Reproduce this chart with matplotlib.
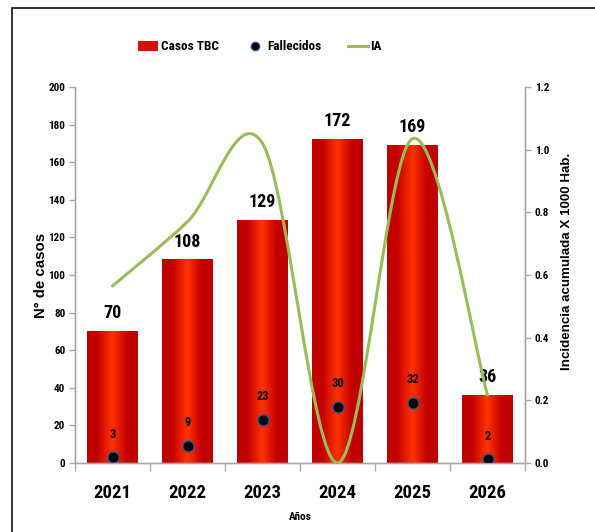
import matplotlib
matplotlib.use("Agg")
import matplotlib.pyplot as plt
import numpy as np
from matplotlib.colors import LinearSegmentedColormap
from matplotlib.path import Path
from matplotlib.patches import PathPatch, Patch, Rectangle
from matplotlib.lines import Line2D

years = ["2021", "2022", "2023", "2024", "2025", "2026"]
casos = [70, 108, 129, 172, 169, 36]
fallecidos = [3, 9, 23, 30, 32, 2]
ia = [0.565, 0.77, 1.02, 0.0, 1.035, 0.217]

NARROW = ['Roboto Condensed', 'DejaVu Sans']
ARIAL = ['Liberation Sans', 'DejaVu Sans']

fig = plt.figure(figsize=(5.95, 5.32), dpi=100)
ax = fig.add_axes([75/595, 69/532, 450/595, 376/532])
ax2 = ax.twinx()

x = np.arange(len(years))
bars = ax.bar(x, casos, width=0.67, color='none', edgecolor='none', zorder=2)

cmap = LinearSegmentedColormap.from_list(
    'g', [(0, '#C00000'), (0.2, '#C40000'), (0.5, '#FF3300'), (0.78, '#C40000'), (1, '#C00000')])
grad = np.linspace(0, 1, 256).reshape(1, -1)
for b in bars:
    ax.imshow(grad, cmap=cmap, aspect='auto', zorder=2,
              extent=[b.get_x(), b.get_x() + b.get_width(), 0, b.get_height()])
    ax.text(b.get_x() + b.get_width() / 2, b.get_height() + 5, f"{b.get_height():.0f}",
            ha='center', va='bottom', fontsize=13, fontweight='bold', family=NARROW)

ax.plot(x, fallecidos, 'o', color='black', markeredgecolor='#2F5597',
        markeredgewidth=1.0, markersize=8, zorder=4, linestyle='none')
for xi, v in zip(x, fallecidos):
    ax.annotate(str(v), (xi, v), xytext=(0, 12), textcoords='offset points',
                ha='center', va='bottom', fontsize=9, fontweight='bold', family=NARROW)

# smoothed line (Excel-like Catmull-Rom Bezier)
pts = np.column_stack([x, ia]).astype(float)
ext = np.vstack([pts[0], pts, pts[-1]])
verts = [tuple(pts[0])]
codes = [Path.MOVETO]
for i in range(len(pts) - 1):
    p0, p1, p2, p3 = ext[i], ext[i + 1], ext[i + 2], ext[i + 3]
    c1 = p1 + (p2 - p0) / 6
    c2 = p2 - (p3 - p1) / 6
    verts += [tuple(c1), tuple(c2), tuple(p2)]
    codes += [Path.CURVE4] * 3
ax2.add_patch(PathPatch(Path(verts, codes), fill=False, edgecolor='#9BBB59',
                        lw=2.2, zorder=5, capstyle='round'))

ax.set_xlim(-0.5, 5.5)
ax.set_ylim(0, 200)
ax2.set_ylim(0, 1.2)
ax.set_yticks(np.arange(0, 201, 20))
ax2.set_yticks(np.arange(0, 1.21, 0.2))
ax2.set_yticklabels([f"{v:.1f}" for v in np.arange(0, 1.21, 0.2)])
ax.set_xticks(x)
ax.set_xticklabels(years)
ax.set_xticks(np.arange(-0.5, 5.6, 1), minor=True)

spc = '#A6A6A6'
for a in (ax, ax2):
    a.spines['top'].set_visible(False)
    for s in ('left', 'right', 'bottom'):
        a.spines[s].set_color(spc)
        a.spines[s].set_linewidth(1.0)
ax.tick_params(axis='x', which='major', length=0, pad=15)
ax.tick_params(axis='x', which='minor', length=6, color=spc, width=1)
ax.tick_params(axis='y', length=4, color=spc, width=1, pad=3)
ax2.tick_params(axis='y', length=4, color=spc, width=1, pad=3)
for lab in ax.get_xticklabels():
    lab.set_fontsize(13.5); lab.set_fontweight('bold'); lab.set_family(NARROW)
for lab in ax.get_yticklabels() + ax2.get_yticklabels():
    lab.set_fontsize(8); lab.set_fontweight('bold'); lab.set_family(NARROW)

ax.set_ylabel("N° de casos", fontsize=10.8, fontweight='bold', family=ARIAL)
ax.yaxis.set_label_coords(-0.06, 0.5)
ax2.set_ylabel("Incidencia acumulada X 1000 Hab.", fontsize=9.6, fontweight='bold',
               family=ARIAL)
ax2.yaxis.set_label_coords(1.08, 0.537)
ax.set_xlabel("Años", fontsize=8, fontweight='bold', family=NARROW, labelpad=7)

handles = [Patch(facecolor='#D81000', edgecolor='none'),
           Line2D([], [], marker='o', color='black', markeredgecolor='#2F5597',
                  linestyle='none', markersize=6),
           Line2D([], [], color='#9BBB59', lw=2.2)]
fig.legend(handles, ["Casos TBC", "Fallecidos", "IA"], loc='center',
           bbox_to_anchor=(260/595, 1 - 47/532), ncol=3, frameon=False,
           prop={'family': NARROW, 'weight': 'bold', 'size': 9.5},
           columnspacing=2.0, handlelength=1.5, handletextpad=0.2)

fig.add_artist(Rectangle((12/595, -0.1), 1.2, 1.1 - 8/532, transform=fig.transFigure,
                         fill=False, edgecolor='#222222', lw=1.3))

fig.savefig("out.png", dpi=100)
